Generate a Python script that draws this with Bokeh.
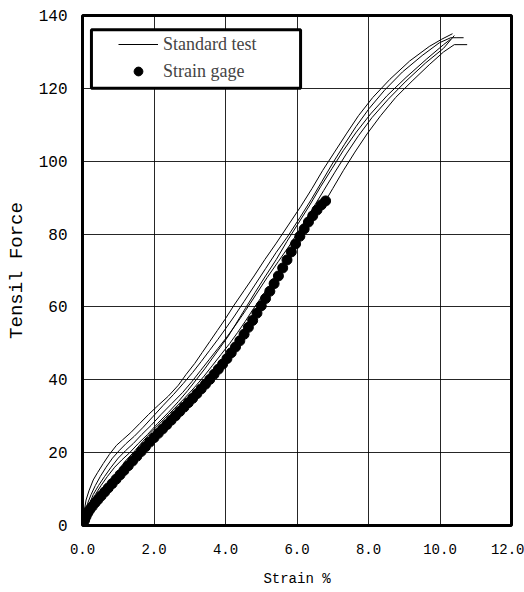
from bokeh.plotting import figure
from bokeh.models import Legend, LegendItem, BoxAnnotation, Range1d, FixedTicker, PrintfTickFormatter
from bokeh.embed import file_html
from bokeh.resources import INLINE

# ---- data: standard tensile tests (strain %, force) ----
xA = [0.0, 0.04, 0.1, 0.18, 0.3, 0.42, 0.58, 0.75, 0.95, 1.12, 1.35, 1.6, 1.85, 2.12, 2.4, 2.68, 2.9, 3.14,
      3.35, 3.56, 3.77, 3.98, 4.24, 4.52, 4.8, 5.1, 5.42, 5.76, 6.1, 6.42, 6.72, 7.05, 7.38, 7.72, 8.12,
      8.6, 9.15, 9.7, 10.05, 10.35]
yA = [0.0, 3.5, 7.0, 9.5, 12.5, 14.5, 17.0, 19.5, 22.0, 23.5, 25.5, 28.0, 30.5, 33.0, 35.5, 38.5, 41.5, 44.5,
      47.5, 50.5, 53.5, 56.5, 60.5, 64.5, 68.5, 73.0, 77.5, 82.5, 87.5, 92.5, 97.5, 102.5, 107.5, 112.5, 117.5,
      122.5, 127.5, 131.5, 133.5, 135.0]

xB = [0.0, 0.06, 0.14, 0.24, 0.36, 0.5, 0.66, 0.84, 1.02, 1.22, 1.45, 1.7, 1.98, 2.26, 2.55, 2.82, 3.08, 3.32,
      3.55, 3.78, 4.0, 4.25, 4.52, 4.82, 5.12, 5.42, 5.75, 6.08, 6.4, 6.7, 7.0, 7.32, 7.65, 8.02, 8.45, 8.95,
      9.5, 9.98, 10.3, 10.45, 10.66]
yB = [0.0, 3.0, 6.0, 8.5, 11.0, 13.5, 16.0, 18.5, 20.5, 22.5, 24.5, 27.0, 30.0, 33.0, 36.0, 39.0, 42.0, 45.0,
      48.0, 51.0, 54.0, 57.5, 61.5, 66.0, 70.5, 75.0, 79.5, 84.5, 89.5, 94.5, 99.5, 104.5, 109.5, 114.5, 119.5,
      124.5, 129.0, 132.5, 133.9, 133.9, 133.9]

xC = [0.0, 0.08, 0.18, 0.3, 0.45, 0.62, 0.8, 1.0, 1.2, 1.42, 1.66, 1.92, 2.2, 2.5, 2.8, 3.06, 3.3, 3.54, 3.78,
      4.02, 4.28, 4.56, 4.86, 5.16, 5.48, 5.8, 6.12, 6.44, 6.75, 7.06, 7.38, 7.72, 8.1, 8.55, 9.05, 9.6,
      10.1, 10.4]
yC = [0.0, 2.5, 5.5, 8.5, 11.0, 13.5, 16.0, 18.5, 20.5, 22.5, 25.0, 27.5, 30.5, 33.5, 36.5, 39.5, 42.5, 45.5,
      48.5, 51.5, 55.0, 59.0, 63.5, 68.0, 72.5, 77.0, 82.0, 87.0, 92.0, 97.0, 102.0, 107.0, 112.0, 117.0,
      122.0, 127.0, 131.0, 134.5]

xD = [0.0, 0.1, 0.22, 0.36, 0.52, 0.7, 0.9, 1.1, 1.32, 1.56, 1.82, 2.1, 2.4, 2.68, 2.94, 3.18, 3.42, 3.64,
      3.86, 4.08, 4.3, 4.55, 4.83, 5.12, 5.42, 5.72, 6.04, 6.36, 6.66, 6.98, 7.3, 7.66, 8.06, 8.52, 9.05,
      9.62, 10.1, 10.3]
yD = [0.0, 2.5, 5.5, 8.5, 11.0, 13.5, 16.0, 18.0, 20.0, 22.5, 25.0, 28.0, 31.0, 34.0, 37.0, 40.0, 43.0, 46.0,
      49.0, 52.0, 55.5, 59.5, 64.0, 68.5, 73.0, 78.0, 83.0, 88.0, 93.0, 98.0, 103.0, 108.0, 113.0, 118.0,
      123.0, 128.0, 132.0, 133.5]

xE = [0.0, 0.12, 0.26, 0.42, 0.6, 0.8, 1.0, 1.18, 1.42, 1.68, 1.96, 2.26, 2.56, 2.86, 3.14, 3.4, 3.64, 3.88,
      4.12, 4.34, 4.55, 4.78, 5.06, 5.38, 5.7, 6.02, 6.36, 6.7, 7.0, 7.3, 7.62, 7.96, 8.34, 8.76, 9.22, 9.7,
      10.1, 10.4, 10.76]
yE = [0.0, 2.5, 5.0, 7.5, 10.0, 12.5, 15.0, 17.5, 20.0, 23.0, 26.0, 29.0, 32.0, 35.0, 38.0, 41.0, 44.0, 47.0,
      50.0, 53.0, 56.0, 59.5, 63.5, 68.0, 72.5, 77.5, 82.5, 87.5, 92.5, 97.5, 102.5, 107.5, 112.5, 117.5,
      122.0, 126.5, 130.0, 132.0, 132.0]

# ---- data: strain gage readings ----
x_gage = [0.02, 0.06, 0.1, 0.15, 0.2, 0.27, 0.35, 0.43, 0.52, 0.62, 0.72, 0.83, 0.94, 1.05, 1.16, 1.28, 1.4,
          1.52, 1.64, 1.76, 1.88, 2.0, 2.12, 2.24, 2.36, 2.48, 2.6, 2.72, 2.84, 2.96, 3.08, 3.2, 3.32, 3.44,
          3.56, 3.68, 3.8, 3.92, 4.04, 4.16, 4.28, 4.4, 4.52, 4.64, 4.76, 4.88, 5.0, 5.12, 5.24, 5.36, 5.48,
          5.6, 5.72, 5.84, 5.96, 6.08, 6.2, 6.32, 6.44, 6.56, 6.68, 6.8]
y_gage = [0.5, 1.5, 2.5, 3.5, 4.3, 5.2, 6.2, 7.1, 8.1, 9.2, 10.3, 11.5, 12.7, 13.9, 15.1, 16.4, 17.7,
          19.0, 20.3, 21.6, 22.9, 24.1, 25.3, 26.5, 27.7, 28.9, 30.1, 31.3, 32.5, 33.7, 34.9, 36.2, 37.5, 38.8,
          40.1, 41.5, 42.9, 44.3, 45.8, 47.4, 49.0, 50.7, 52.5, 54.4, 56.3, 58.3, 60.3, 62.3, 64.3, 66.4, 68.5,
          70.7, 72.9, 75.1, 77.3, 79.4, 81.4, 83.3, 85.0, 86.6, 88.0, 89.1]

x_ticks = [0, 2, 4, 6, 8, 10, 12]
y_ticks = [0, 20, 40, 60, 80, 100, 120, 140]

p = figure(frame_width=429, frame_height=510,
           x_range=Range1d(0, 12), y_range=Range1d(0, 140),
           output_backend="svg", toolbar_location=None,
           min_border_left=82, min_border_top=15, min_border_right=13, min_border_bottom=67,
           background_fill_color="white", border_fill_color="white")

p.outline_line_color = "black"
p.outline_line_width = 3

p.xaxis.ticker = FixedTicker(ticks=x_ticks)
p.yaxis.ticker = FixedTicker(ticks=y_ticks)
p.xaxis.formatter = PrintfTickFormatter(format="%.1f")

for ax in (p.xaxis, p.yaxis):
    ax.axis_line_color = None
    ax.major_tick_line_color = None
    ax.minor_tick_line_color = None
    ax.major_tick_out = 0
    ax.major_tick_in = 0
    ax.minor_tick_out = 0
    ax.minor_tick_in = 0
    ax.major_label_text_font = "Liberation Mono"
    ax.major_label_text_color = "black"
    ax.axis_label_text_font = "Liberation Mono"
    ax.axis_label_text_font_style = "normal"
    ax.axis_label_text_color = "black"

p.yaxis.major_label_text_font_size = "16px"
p.yaxis.major_label_standoff = 15
p.yaxis.axis_label = "Tensil Force"
p.yaxis.axis_label_text_font_size = "19px"
p.yaxis.axis_label_standoff = 8

p.xaxis.major_label_text_font_size = "14px"
p.xaxis.major_label_standoff = 18
p.xaxis.axis_label = "Strain %"
p.xaxis.axis_label_text_font_size = "14px"
p.xaxis.axis_label_standoff = 14

p.grid.grid_line_color = "black"
p.grid.grid_line_width = 1
p.grid.grid_line_alpha = 0.85

lines = []
for xs, ys in ((xA, yA), (xB, yB), (xC, yC), (xD, yD), (xE, yE)):
    r = p.line(xs, ys, line_color="black", line_width=1)
    lines.append(r)

dots = p.scatter(x_gage, y_gage, marker="circle", size=10, fill_color="black", line_color="black")

box = BoxAnnotation(left=0.25, right=6.1, bottom=120, top=136.1,
                    fill_color="white", fill_alpha=1.0,
                    line_color="black", line_alpha=1.0, line_width=3)
p.add_layout(box)

legend = Legend(items=[LegendItem(label="Standard test", renderers=[lines[0]]),
                       LegendItem(label="Strain gage", renderers=[dots])],
                location=(36, 443), padding=0, margin=0, spacing=5,
                glyph_width=40, glyph_height=22, label_height=22, label_standoff=5,
                label_text_font="Liberation Serif", label_text_font_size="18px",
                border_line_color=None, background_fill_alpha=0.0)
p.add_layout(legend)

open("out.html", "w").write(file_html(p, INLINE))
